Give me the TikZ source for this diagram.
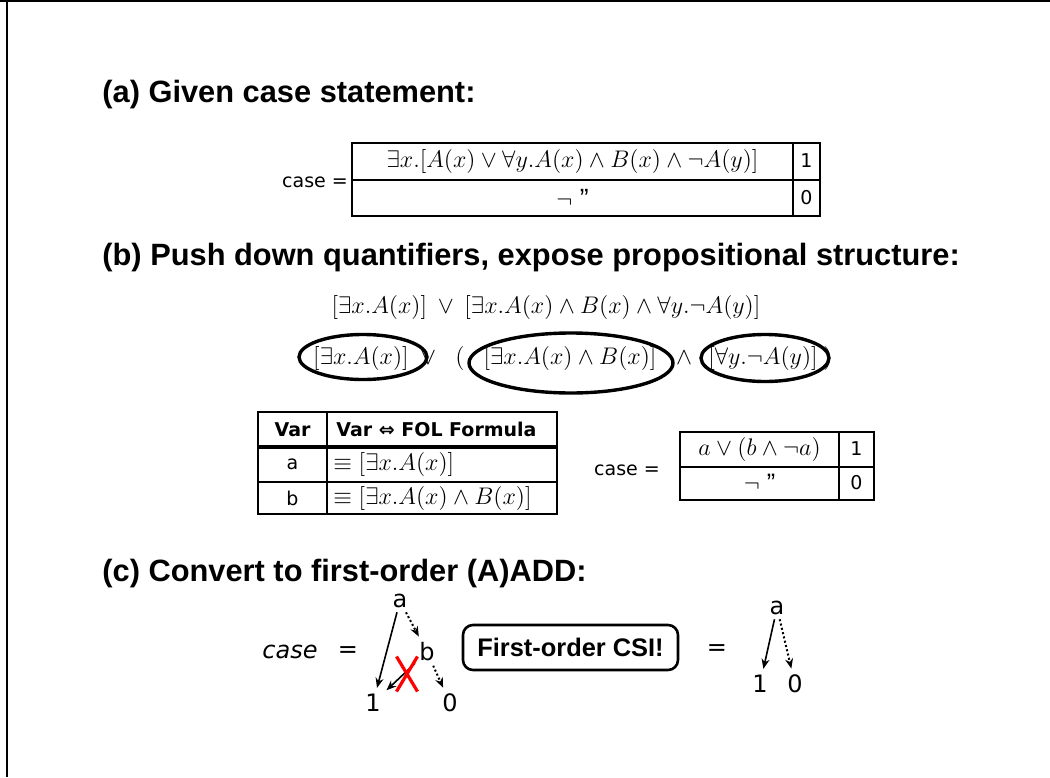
\documentclass[tikz,border=0pt]{standalone}
\usepackage{fontspec}
\setmainfont{Liberation Sans}
\newfontfamily\comic{DejaVu Sans}
\usetikzlibrary{arrows.meta}
\begin{document}
\begin{tikzpicture}[x=0.5pt,y=-0.5pt,
  head/.style={anchor=west,inner sep=0,font=\bfseries\fontsize{15.4}{18}\selectfont},
  mth/.style={inner sep=0,font=\fontsize{13.1}{16}\selectfont},
  mtha/.style={inner sep=0,font=\fontsize{13.2}{16}\selectfont},
  mthv/.style={inner sep=0,font=\fontsize{12.8}{15}\selectfont},
  mthr/.style={inner sep=0,font=\fontsize{12.6}{15}\selectfont},
  ctext/.style={inner sep=0,font=\comic\fontsize{9.5}{11}\selectfont},
  ctextb/.style={inner sep=0,font=\comic\bfseries\fontsize{9.5}{11}\selectfont},
  tree/.style={inner sep=2pt,font=\comic\fontsize{12}{14}\selectfont},
  tout/.style={line width=1.4pt},
  tin/.style={line width=1pt},
  ell/.style={line width=1.7pt},
  arr/.style={line width=0.8pt,-{Stealth[length=5pt,width=4pt]},shorten >=1pt},
  darr/.style={arr,line width=1pt,dash pattern=on 1pt off 1.2pt},
  csi/.style={draw,line width=1.3pt,rounded corners=5pt,minimum width=107.5pt,minimum height=22.5pt,inner sep=0,font=\bfseries\fontsize{12.7}{15}\selectfont},
  cross/.style={red,line width=1.6pt}
]
\useasboundingbox (0,0) rectangle (1050,777);
% frame
\draw[line width=1pt] (0,1) -- (1050,1);
\draw[line width=1pt] (7,0) -- (7,777);

% (a)
\node[head] (ha) at (102,95) {(a) Given case statement:};
\node[ctext] (casea) at (315,182) {case =};
\draw[tout] (352,143) rectangle (820,216);
\draw[tin] (352,179.5) -- (820,179.5);
\draw[tout] (793,143) -- (793,216);
\node[mtha] (fa1) at (572.5,161) {$\exists x.[A(x)\vee\forall y.A(x)\wedge B(x)\wedge\neg A(y)]$};
\node[ctext] (va1) at (806.5,161) {1};
\node[mtha] (fa0) at (572.5,198) {$\neg$ ''};
\node[ctext] (va0) at (806.5,198) {0};

% (b)
\node[head] (hb) at (102,258) {(b) Push down quantifiers, expose propositional structure:};
\node[mth,anchor=base] (l1) at (546,313) {$[\exists x.A(x)]\mkern4mu\vee\mkern4mu[\exists x.A(x)\wedge B(x)\wedge\forall y.\neg A(y)]$};
\node[mth,anchor=base] (p1) at (361,364) {$[\exists x.A(x)]$};
\node[mth,anchor=base] (o1) at (428,364) {$\vee$};
\node[mth,anchor=base] (lp) at (460,364) {$($};
\node[mth,anchor=base] (p2) at (570,364) {$[\exists x.A(x)\wedge B(x)]$};
\node[mth,anchor=base] (o2) at (684,364) {$\wedge$};
\node[mth,anchor=base] (p3) at (763,364) {$[\forall y.\neg A(y)]$};
\node[mth,anchor=base] (rp) at (828,364) {$)$};
\draw[ell] ([shift={(2,-1)}]p1.center) ellipse [x radius=64, y radius=22.5];
\draw[ell] ([shift={(1,5)}]p2.center) ellipse [x radius=102, y radius=30];
\draw[ell] ([shift={(2,0)}]p3.center) ellipse [x radius=64, y radius=23.5];

% Var table
\draw[tout] (258,412) rectangle (557,514);
\draw[tout] (327,412) -- (327,514);
\draw[line width=1.6pt] (258,447) -- (557,447);
\draw[tin] (258,482) -- (557,482);
\node[ctextb] (hv) at (292.5,429.5) {Var};
\node[ctextb,anchor=west] (hf) at (336,429.5) {Var ⇔ FOL Formula};
\node[ctext] (va) at (292.5,464.5) {a};
\node[mthv,anchor=west] (fa) at (333,464.5) {$\equiv[\exists x.A(x)]$};
\node[ctext] (vb) at (292.5,498) {b};
\node[mthv,anchor=west] (fb) at (333,498) {$\equiv[\exists x.A(x)\wedge B(x)]$};

% right table
\node[ctext] (caseb) at (627,470) {case =};
\draw[tout] (680,432) rectangle (874,500);
\draw[tin] (680,466.5) -- (874,466.5);
\draw[tout] (839,432) -- (839,500);
\node[mthr] (fr1) at (759.5,449) {$a\vee(b\wedge\neg a)$};
\node[ctext] (vr1) at (856.5,449) {1};
\node[mthr] (fr0) at (759.5,483) {$\neg$ ''};
\node[ctext] (vr0) at (856.5,483) {0};

% (c)
\node[head] (hc) at (102,574) {(c) Convert to first-order (A)ADD:};
\node[inner sep=0,font=\comic\itshape\fontsize{12}{14}\selectfont] (casec) at (290,652) {case};
\node[tree,inner sep=0] (eq1) at (348,652) {=};
\node[tree] (ta) at (400,601) {a};
\node[tree] (tb) at (427,652) {b};
\node[tree] (t1) at (373,703) {1};
\node[tree] (t0) at (450,703) {0};
\draw[arr] (ta) -- (t1);
\draw[darr] (ta) -- (tb);
\draw[arr] (tb) -- (t1);
\draw[darr] (tb) -- (t0);
\coordinate (xc) at (407,674);
\draw[cross] ([shift={(-10.5,-17.5)}]xc) -- ([shift={(10.5,17.5)}]xc);
\draw[cross] ([shift={(10.5,-17.5)}]xc) -- ([shift={(-10.5,17.5)}]xc);
\node[csi] (box) at (570.5,647.5) {First-order CSI!};
\node[tree,inner sep=0] (eq2) at (717,650) {=};
\node[tree] (ra) at (777,608) {a};
\node[tree] (r1) at (760,684) {1};
\node[tree] (r0) at (795,684) {0};
\draw[arr] (ra) -- (r1);
\draw[darr] (ra) -- (r0);
\end{tikzpicture}
\end{document}
